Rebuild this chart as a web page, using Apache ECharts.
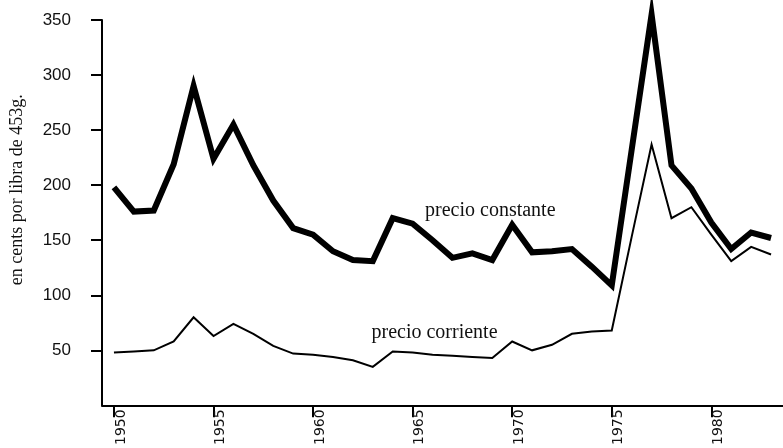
<!DOCTYPE html>
<html>
<head>
<meta charset="utf-8">
<script src="https://cdn.jsdelivr.net/npm/echarts@6/dist/echarts.min.js"></script>
<style>
  html, body { margin: 0; padding: 0; background: #ffffff; }
  #chart { width: 783px; height: 448px; }
</style>
</head>
<body>
<div id="chart"></div>
<script>
// años y precios (cents por libra de 453 g)
const years = [1950, 1951, 1952, 1953, 1954, 1955, 1956, 1957, 1958, 1959,
  1960, 1961, 1962, 1963, 1964, 1965, 1966, 1967, 1968, 1969,
  1970, 1971, 1972, 1973, 1974, 1975, 1976, 1977, 1978, 1979,
  1980, 1981, 1982, 1983];
const precioConstante = [198, 176, 177, 219, 290, 224, 255, 218, 186, 161,
  155, 140, 132, 131, 170, 165, 150, 134, 138, 132,
  164, 139, 140, 142, 126, 109, 232, 355, 218, 197,
  166, 142, 157, 152];
const precioCorriente = [48, 49, 50, 58, 80, 63, 74, 65, 54, 47,
  46, 44, 41, 35, 49, 48, 46, 45, 44, 43,
  58, 50, 55, 65, 67, 68, 153, 237, 170, 180,
  155, 131, 144, 137];
const xTicks = [1950, 1955, 1960, 1965, 1970, 1975, 1980];
const yTicks = [50, 100, 150, 200, 250, 300, 350];

const chart = echarts.init(document.getElementById('chart'));

const pair = (arr) => years.map((y, i) => [y, arr[i]]);

chart.setOption({
  animation: false,
  backgroundColor: '#ffffff',
  grid: { left: 102, right: 0, top: 20, bottom: 40 },
  xAxis: {
    type: 'value',
    min: 1949.4,
    max: 1983.6,
    splitLine: { show: false },
    axisLine: { lineStyle: { color: '#000', width: 2 } },
    axisTick: { customValues: xTicks, length: 12, lineStyle: { color: '#000', width: 2 } },
    axisLabel: {
      customValues: xTicks,
      rotate: 90,
      margin: 4,
      verticalAlign: 'top',
      lineHeight: 14,
      color: '#111',
      fontFamily: 'DejaVu Sans',
      fontSize: 14,
      formatter: (v) => String(v)
    }
  },
  yAxis: {
    type: 'value',
    min: 0,
    max: 350,
    interval: 50,
    name: 'en cents por libra de 453g.',
    nameLocation: 'middle',
    nameGap: 76,
    nameTextStyle: {
      color: '#111',
      fontFamily: 'Liberation Serif',
      fontSize: 18,
      padding: [0, 0, 0, 46]
    },
    splitLine: { show: false },
    axisLine: { show: true, lineStyle: { color: '#000', width: 2 } },
    axisTick: { customValues: yTicks, length: 11, lineStyle: { color: '#000', width: 2 } },
    axisLabel: {
      customValues: yTicks,
      margin: 31,
      color: '#111',
      fontFamily: 'Liberation Sans',
      fontSize: 17
    }
  },
  series: [
    {
      name: 'precio constante',
      type: 'line',
      data: pair(precioConstante),
      symbol: 'none',
      clip: false,
      lineStyle: { color: '#000', width: 6, join: 'miter' },
      markPoint: {
        symbol: 'circle',
        symbolSize: 0,
        data: [{ coord: [1968.9, 177] }],
        label: {
          show: true,
          formatter: 'precio constante',
          color: '#111',
          fontFamily: 'Liberation Serif',
          fontSize: 20
        }
      }
    },
    {
      name: 'precio corriente',
      type: 'line',
      data: pair(precioCorriente),
      symbol: 'none',
      lineStyle: { color: '#000', width: 2, join: 'miter' },
      markPoint: {
        symbol: 'circle',
        symbolSize: 0,
        data: [{ coord: [1966.1, 66] }],
        label: {
          show: true,
          formatter: 'precio corriente',
          color: '#111',
          fontFamily: 'Liberation Serif',
          fontSize: 20
        }
      }
    }
  ]
});
</script>
</body>
</html>
